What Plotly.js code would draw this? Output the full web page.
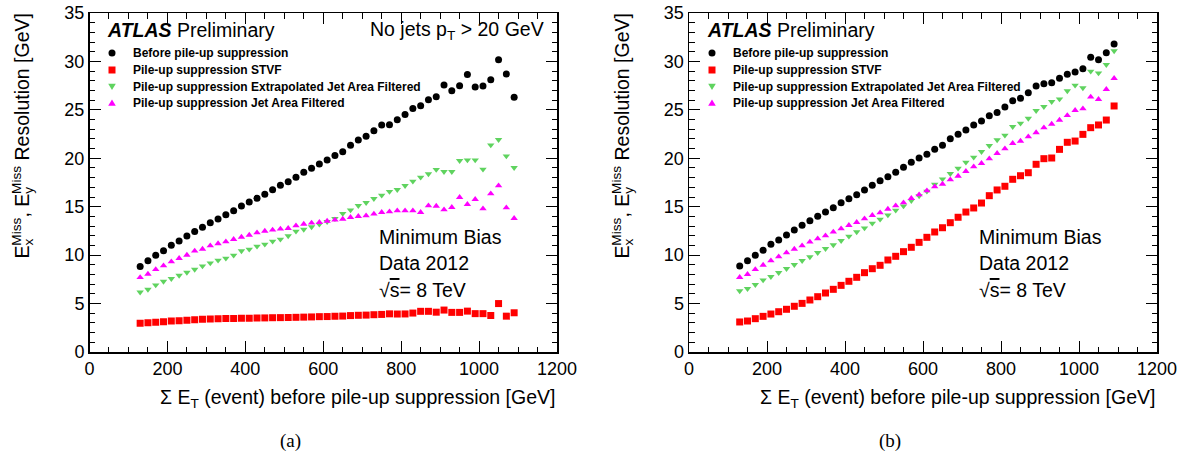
<!DOCTYPE html>
<html>
<head>
<meta charset="utf-8">
<script src="https://cdn.plot.ly/plotly-3.0.1.min.js"></script>
<style>html,body{margin:0;padding:0;background:#fff;}#chart{width:1193px;height:463px;}</style>
</head>
<body>
<div id="chart"></div>
<script>
// ---- data ----
const sumET = [130,150,170,190,210,230,250,270,290,310,330,350,370,390,410,430,450,470,490,510,530,550,570,590,610,630,650,670,690,710,730,750,770,790,810,830,850,870,890,910,930,950,970,990,1010,1030,1050,1070,1090];

const seriesNames = ["Before pile-up suppression","Pile-up suppression STVF","Pile-up suppression Extrapolated Jet Area Filtered","Pile-up suppression Jet Area Filtered"];

// panel (a): no jets pT > 20 GeV
const a_before = [8.84,9.43,9.98,10.46,11.01,11.46,11.97,12.45,12.87,13.35,13.73,14.18,14.59,15.07,15.49,15.87,16.28,16.76,17.21,17.59,18.03,18.55,18.96,19.41,19.82,20.30,20.68,21.34,21.89,22.27,22.85,23.44,23.47,23.98,24.53,25.15,25.42,26.05,26.36,27.56,26.98,27.49,28.66,27.36,27.46,28.11,30.18,28.70,26.29];
const a_stvf = [2.98,3.01,3.07,3.13,3.19,3.23,3.29,3.33,3.37,3.40,3.43,3.45,3.46,3.48,3.49,3.51,3.52,3.54,3.55,3.56,3.58,3.60,3.62,3.65,3.66,3.69,3.71,3.76,3.79,3.81,3.85,3.88,3.94,3.92,3.93,4.02,4.20,4.20,4.11,4.33,4.09,4.09,4.22,3.96,3.96,3.77,5.00,3.70,4.05];
const a_extrap = [6.17,6.46,6.91,7.29,7.57,7.91,8.22,8.53,8.87,9.18,9.46,9.67,9.98,10.43,10.60,10.91,11.12,11.43,11.63,11.98,12.46,12.66,12.91,13.18,13.46,13.77,14.29,14.66,15.11,15.42,15.83,16.18,16.56,16.76,17.17,17.62,18.03,18.38,18.83,18.62,18.62,19.75,19.82,19.82,18.86,21.37,21.92,20.23,19.03];
const a_jetarea = [7.70,8.05,8.53,8.91,9.33,9.67,10.01,10.43,10.63,10.98,11.19,11.39,11.63,11.87,12.08,12.32,12.49,12.60,12.70,12.77,13.04,13.21,13.32,13.39,13.52,13.63,13.73,13.90,14.01,14.08,14.25,14.42,14.49,14.59,14.59,14.59,14.42,15.11,15.07,14.69,14.94,15.97,15.25,15.76,14.80,16.35,17.17,14.90,13.80];

// panel (b): inclusive
const b_before = [8.88,9.43,9.98,10.50,11.12,11.56,12.08,12.60,13.08,13.56,14.01,14.45,14.90,15.42,15.83,16.24,16.73,17.21,17.69,18.10,18.55,19.07,19.58,20.03,20.41,20.92,21.34,22.02,22.47,22.92,23.44,23.85,24.40,24.74,25.29,25.95,26.19,26.77,27.46,27.70,27.80,28.26,28.67,28.91,29.25,30.42,30.18,30.90,31.80];
const b_stvf = [3.10,3.20,3.44,3.68,3.92,4.16,4.41,4.72,5.02,5.37,5.71,6.09,6.47,6.88,7.30,7.71,8.19,8.60,8.95,9.50,9.88,10.36,10.81,11.32,11.84,12.39,12.83,13.35,13.91,14.45,14.87,15.38,16.14,16.73,17.11,17.83,18.20,18.51,19.38,19.96,20.03,20.92,21.65,21.78,22.47,23.16,23.44,23.95,25.40];
const b_extrap = [6.30,6.54,6.95,7.43,7.78,8.19,8.60,9.02,9.43,9.81,10.25,10.67,11.05,11.49,11.94,12.39,12.80,13.29,13.70,14.14,14.63,15.07,15.62,16.11,16.59,17.30,17.86,18.41,18.96,19.58,20.10,20.68,21.30,21.89,22.37,23.26,23.61,24.12,24.92,25.33,25.84,26.12,26.95,27.53,27.26,28.98,28.80,29.66,31.08];
const b_jetarea = [7.71,8.02,8.53,8.98,9.43,9.84,10.25,10.63,10.98,11.36,11.70,12.01,12.39,12.73,13.08,13.39,13.76,14.11,14.38,14.76,15.11,15.42,15.87,16.24,16.66,17.07,17.34,17.79,18.17,18.65,19.13,19.48,19.96,20.51,20.99,21.54,21.78,22.23,22.65,23.16,23.54,23.95,24.43,24.95,25.12,26.33,26.09,27.12,28.26];

const xTickVals = [0,200,400,600,800,1000,1200];
const yTickVals = [0,5,10,15,20,25,30,35];

// ---- styling ----
const W = 1193, H = 463;
const px = v => v / W;
const py = v => 1 - v / H;
const SANS = "Liberation Sans, Arial, Helvetica, sans-serif";
const SERIF = "Liberation Serif, Times New Roman, serif";
const colors = ["#000000", "#ff0000", "#5fd35f", "#ff00ff"];
const symbols = ["circle", "square", "triangle-down", "triangle-up"];
const msize = [7, 7, 6.5, 6.5];

const panels = [
  {xa: "x", ya: "y", series: [a_before, a_stvf, a_extrap, a_jetarea], dx: 0, label: "(a)", jets: true},
  {xa: "x2", ya: "y2", series: [b_before, b_stvf, b_extrap, b_jetarea], dx: 600, label: "(b)", jets: false}
];

const traces = [];
panels.forEach(p => {
  p.series.forEach((ys, i) => {
    traces.push({
      type: "scatter", mode: "markers", x: sumET, y: ys,
      xaxis: p.xa, yaxis: p.ya, name: seriesNames[i], showlegend: false,
      marker: {symbol: symbols[i], size: msize[i], color: colors[i], line: {width: 0}},
      hoverinfo: "x+y"
    });
  });
});

function xAxis(domain, anchor) {
  return {
    domain: domain, anchor: anchor, range: [0, 1200], tickvals: xTickVals,
    ticks: "inside", ticklen: 11, tickwidth: 1, tickcolor: "#000",
    minor: {dtick: 50, ticks: "inside", ticklen: 5.5, tickwidth: 1, tickcolor: "#000"},
    showline: true, linecolor: "#000", linewidth: 1.5, mirror: "allticks",
    showgrid: false, zeroline: false,
    tickfont: {family: SANS, size: 18, color: "#000"}, fixedrange: true
  };
}
function yAxis(domain, anchor) {
  return {
    domain: domain, anchor: anchor, range: [0, 35], tickvals: yTickVals,
    ticks: "inside", ticklen: 11, tickwidth: 1, tickcolor: "#000",
    minor: {dtick: 1, ticks: "inside", ticklen: 5.5, tickwidth: 1, tickcolor: "#000"},
    showline: true, linecolor: "#000", linewidth: 1.5, mirror: "allticks",
    showgrid: false, zeroline: false,
    tickfont: {family: SANS, size: 18, color: "#000"}, fixedrange: true
  };
}

const yDom = [py(352), py(13)];
const annotations = [];
const shapes = [];

function ann(text, x, y, opts) {
  annotations.push(Object.assign({
    text: text, xref: "paper", yref: "paper", x: px(x), y: py(y),
    showarrow: false, xanchor: "left", yanchor: "middle",
    font: {family: SANS, size: 20, color: "#000"}
  }, opts || {}));
}

const ytitle = 'E<sub><span style="letter-spacing:-7px">x</span></sub><sup>Miss</sup>, E<sub><span style="letter-spacing:-7px">y</span></sub><sup>Miss</sup> Resolution [GeV]';

panels.forEach(p => {
  const d = p.dx;
  // axis titles
  ann("Σ E<sub>T</sub> (event) before pile-up suppression [GeV]", 557 + d, 398, {xanchor: "right", font: {family: SANS, size: 19.5, color: "#000"}});
  ann(ytitle, 22 + d, 12, {xanchor: "center", yanchor: "top", textangle: -90, font: {family: SANS, size: 19.5, color: "#000"}});
  // ATLAS label
  ann("<b><i>ATLAS</i></b> Preliminary", 105 + d, 30, {font: {family: SANS, size: 19.5, color: "#000"}});
  if (p.jets) ann("No jets p<sub>T</sub> &gt; 20 GeV", 546 + d, 30, {xanchor: "right", font: {family: SANS, size: 19.5, color: "#000"}});
  // legend texts
  const rows = [53, 70, 86.5, 103];
  seriesNames.forEach((n, i) => {
    ann("<b>" + n + "</b>", 131 + d, rows[i], {font: {family: SANS, size: 12, color: "#000"}});
  });
  // legend symbols
  const lx = px(112 + d);
  shapes.push({type: "circle", xref: "paper", yref: "paper", xsizemode: "pixel", ysizemode: "pixel",
    xanchor: lx, yanchor: py(rows[0]), x0: -3.5, x1: 3.5, y0: -3.5, y1: 3.5,
    fillcolor: colors[0], line: {width: 0}});
  shapes.push({type: "rect", xref: "paper", yref: "paper", xsizemode: "pixel", ysizemode: "pixel",
    xanchor: lx, yanchor: py(rows[1]), x0: -3.5, x1: 3.5, y0: -3.5, y1: 3.5,
    fillcolor: colors[1], line: {width: 0}});
  shapes.push({type: "path", xref: "paper", yref: "paper", xsizemode: "pixel", ysizemode: "pixel",
    xanchor: lx, yanchor: py(rows[2]), path: "M-3.8,2.8L3.8,2.8L0,-3.6Z",
    fillcolor: colors[2], line: {width: 0}});
  shapes.push({type: "path", xref: "paper", yref: "paper", xsizemode: "pixel", ysizemode: "pixel",
    xanchor: lx, yanchor: py(rows[3]), path: "M-3.8,-2.8L3.8,-2.8L0,3.6Z",
    fillcolor: colors[3], line: {width: 0}});
  // run info
  ann("Minimum Bias", 377 + d, 237.5, {font: {family: SANS, size: 19.5, color: "#000"}});
  ann("Data 2012", 377 + d, 263, {font: {family: SANS, size: 19.5, color: "#000"}});
  ann('√<span style="text-decoration:overline">s</span>= 8 TeV', 377 + d, 289.5, {font: {family: SANS, size: 19.5, color: "#000"}});
  // panel label
  ann(p.label, 290 + d, 441, {xanchor: "center", font: {family: SERIF, size: 19, color: "#000"}});
});

const layout = {
  width: W, height: H,
  margin: {l: 0, r: 0, t: 0, b: 0, pad: 0},
  paper_bgcolor: "#fff", plot_bgcolor: "#fff",
  showlegend: false,
  xaxis: xAxis([px(89.5), px(557)], "y"),
  yaxis: yAxis(yDom, "x"),
  xaxis2: xAxis([px(689), px(1157)], "y2"),
  yaxis2: yAxis(yDom, "x2"),
  annotations: annotations,
  shapes: shapes
};

Plotly.newPlot("chart", traces, layout, {staticPlot: true, displayModeBar: false});
</script>
</body>
</html>
